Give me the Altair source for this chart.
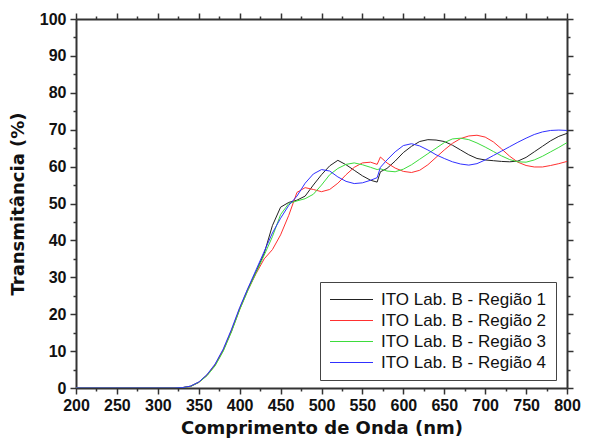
import altair as alt
import pandas as pd

# Wavelength grid (nm)
wavelength = [200, 250, 300, 320, 330, 340, 350, 360, 370, 380, 390, 400, 410, 420, 430,
              440, 450, 460, 470, 480, 490, 500, 510, 520, 530, 540, 550, 560,
              568, 572,
              580, 590, 600, 610, 620, 630, 640, 650, 660, 670, 680, 690, 700,
              710, 720, 730, 740, 750, 760, 770, 780, 790, 800]

regiao_1 = [0, 0, 0, 0, 0.1, 0.5, 1.6, 3.5, 6.3, 10.3, 15.5, 21.5, 26.8, 31.5, 36.5,
            44, 49, 50.3, 50.9, 52, 55, 57.8, 60.2, 61.7, 60.5, 59, 57.5, 56.3,
            55.8, 58.6,
            59.5, 61.5, 63.8, 65.5, 66.8, 67.3, 67.2, 66.8, 65.8, 64.5, 63.2, 62.2, 61.8,
            61.6, 61.4, 61.3, 61.5, 62.5, 64, 65.5, 67, 68.2, 69]

regiao_2 = [0, 0, 0, 0, 0.1, 0.4, 1.5, 3.4, 6.2, 10.2, 15.4, 21.3, 26.5, 31.0, 35.0,
            37.5, 41.5, 46.8, 53, 54.3, 53.8, 53.2, 53.8, 55.5, 57.8, 59.8, 61, 61.2,
            60.6, 62.6,
            61, 59.6, 58.7, 58.4, 59, 60.5, 62.5, 64.5, 66.3, 67.6, 68.3, 68.5, 68,
            66.7, 64.8, 62.8, 61.2, 60.3, 59.9, 59.9, 60.3, 60.8, 61.4]

regiao_3 = [0, 0, 0, 0, 0.1, 0.4, 1.5, 3.3, 6.0, 10.0, 15.2, 21.2, 26.4, 31.2, 36.0,
            41, 47, 50, 50.7, 51.3, 52.5, 55, 57.8, 59.5, 60.6, 61, 60.5, 59.8,
            59.2, 59.4,
            58.8, 58.6, 59.3, 60.5, 62, 63.5, 65, 66.5, 67.5, 67.7, 67.3, 66.4, 65.3,
            64.1, 62.9, 61.9, 61.3, 61.2, 61.8, 62.8, 64, 65.2, 66.5]

regiao_4 = [0, 0, 0, 0, 0.1, 0.5, 1.6, 3.6, 6.5, 10.6, 15.9, 21.8, 27.0, 32.0, 37.0,
            42, 46, 49.5, 52, 55.5, 58, 59.2, 58.8, 57.2, 56, 55.4, 55.6, 56.3,
            57, 59.8,
            61.8, 64, 65.7, 66.2, 65.6, 64.5, 63.2, 62.2, 61.3, 60.7, 60.4, 60.8, 61.8,
            63, 64.2, 65.4, 66.6, 67.7, 68.7, 69.4, 69.8, 69.9, 69.8]

series_names = ["ITO Lab. B - Região 1", "ITO Lab. B - Região 2",
                "ITO Lab. B - Região 3", "ITO Lab. B - Região 4"]
series_colors = ["#222222", "#ff3030", "#3ddc3d", "#3030ff"]

x_major = list(range(200, 801, 50))
x_minor = list(range(225, 800, 50))
y_major = list(range(0, 101, 10))
y_minor = list(range(5, 100, 10))

rows = []
for name, vals in zip(series_names, [regiao_1, regiao_2, regiao_3, regiao_4]):
    for w, v in zip(wavelength, vals):
        rows.append({"wl": w, "T": v, "serie": name})
df = pd.DataFrame(rows)

AX = "#333333"
x_scale = alt.Scale(domain=[200, 800], nice=False, zero=False)
y_scale = alt.Scale(domain=[0, 100], nice=False)

common_axis = dict(grid=False, domainColor=AX, domainWidth=2, tickColor=AX, tickWidth=1.5)

lines = alt.Chart(df).mark_line(strokeWidth=1, clip=True).encode(
    x=alt.X("wl:Q", scale=x_scale,
            axis=alt.Axis(values=x_major, tickSize=6, labelFont="Liberation Sans",
                          labelFontWeight="bold", labelFontSize=16, labelColor="#111111",
                          labelPadding=3, labelFlush=False, labelOverlap=False,
                          title="Comprimento de Onda (nm)",
                          titleFont="DejaVu Sans", titleFontWeight="bold", titleFontSize=18,
                          titleColor="#111111", titlePadding=6, **common_axis)),
    y=alt.Y("T:Q", scale=y_scale,
            axis=alt.Axis(values=y_major, tickSize=6, labelFont="Liberation Sans",
                          labelFontWeight="bold", labelFontSize=16, labelColor="#111111",
                          labelPadding=4, labelFlush=False, labelOverlap=False,
                          title="Transmitância (%)",
                          titleFont="DejaVu Sans", titleFontWeight="bold", titleFontSize=18,
                          titleColor="#111111", titlePadding=12, **common_axis)),
    color=alt.Color("serie:N", scale=alt.Scale(domain=series_names, range=series_colors),
                    legend=alt.Legend(orient="none", legendX=244, legendY=263, title=None,
                                      padding=9, strokeColor="#444444", fillColor="white",
                                      labelFont="Liberation Sans", labelFontSize=17,
                                      labelColor="#111111", labelLimit=0, symbolType="stroke",
                                      symbolSize=1849, symbolStrokeWidth=1.2,
                                      clipHeight=17, rowPadding=3, labelOffset=7)),
)

def ghost(xaxis, yaxis):
    return alt.Chart(df).mark_point(opacity=0).encode(
        x=alt.X("wl:Q", scale=x_scale, axis=xaxis),
        y=alt.Y("T:Q", scale=y_scale, axis=yaxis),
    )

minor_bl = ghost(
    alt.Axis(orient="bottom", values=x_minor, labels=False, domain=False, tickSize=3,
             title=None, grid=False, tickColor=AX, tickWidth=1.5),
    alt.Axis(orient="left", values=y_minor, labels=False, domain=False, tickSize=3,
             title=None, grid=False, tickColor=AX, tickWidth=1.5),
)
major_tr = ghost(
    alt.Axis(orient="top", values=x_major, labels=False, tickSize=6, title=None, **common_axis),
    alt.Axis(orient="right", values=y_major, labels=False, tickSize=6, title=None, **common_axis),
)
minor_tr = ghost(
    alt.Axis(orient="top", values=x_minor, labels=False, domain=False, tickSize=3,
             title=None, grid=False, tickColor=AX, tickWidth=1.5),
    alt.Axis(orient="right", values=y_minor, labels=False, domain=False, tickSize=3,
             title=None, grid=False, tickColor=AX, tickWidth=1.5),
)

chart = alt.layer(lines, minor_bl, major_tr, minor_tr).resolve_axis(
    x="independent", y="independent"
).properties(
    width=491, height=369,
    autosize=alt.AutoSizeParams(type="none"),
    padding={"left": 68, "top": 11, "right": 14, "bottom": 50},
).configure_view(stroke=None)

chart.save("out.html", embed_options={"renderer": "svg", "actions": False})
